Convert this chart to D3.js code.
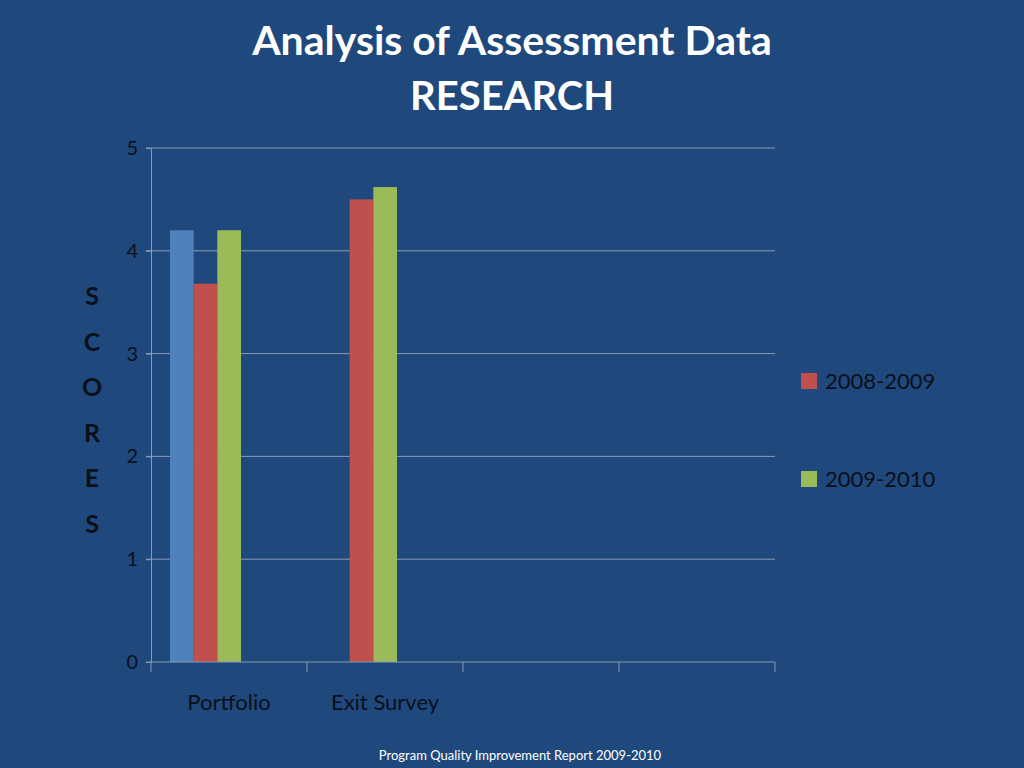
<!DOCTYPE html>
<html><head><meta charset="utf-8">
<script src="https://cdn.jsdelivr.net/npm/d3@7"></script>
<style>body{margin:0;background:#1F497D;} text{font-family:Lato,"Open Sans",sans-serif;}</style>
</head><body>
<script>
var categories = ["Portfolio", "Exit Survey", "", " "];
var series = ["blank", "2008-2009", "2009-2010"];
var blankVals = [4.2, null, null, null];
var vals0809 = [3.68, 4.5, null, null];
var vals0910 = [4.2, 4.62, null, null];
var yTicks = [0, 1, 2, 3, 4, 5];
var colors = {"blank": "#4F81BD", "2008-2009": "#C0504D", "2009-2010": "#9BBB59"};

var width = 1024, height = 768;
var svg = d3.select("body").append("svg").attr("width", width).attr("height", height);
svg.append("rect").attr("width", width).attr("height", height).attr("fill", "#1F497D");

var x0 = d3.scaleBand().domain(categories).range([151, 775]);
var x1 = d3.scaleBand().domain(series).range([19, 90]);
var y = d3.scaleLinear().domain([0, 5]).range([662, 148]);

svg.selectAll(".grid").data(yTicks.slice(1)).enter().append("line")
  .attr("x1", 146).attr("x2", 775).attr("y1", y).attr("y2", y)
  .attr("stroke", "#8a9bb3").attr("stroke-width", 1);

var rows = [];
categories.forEach(function(c, i) {
  rows.push({c: c, s: "blank", v: blankVals[i]});
  rows.push({c: c, s: "2008-2009", v: vals0809[i]});
  rows.push({c: c, s: "2009-2010", v: vals0910[i]});
});
svg.selectAll(".bar").data(rows.filter(function(d) { return d.v != null; })).enter().append("rect")
  .attr("x", function(d) { return x0(d.c) + x1(d.s); })
  .attr("width", x1.bandwidth())
  .attr("y", function(d) { return y(d.v); })
  .attr("height", function(d) { return y(0) - y(d.v); })
  .attr("fill", function(d) { return colors[d.s]; });

var yAxis = svg.append("g").attr("transform", "translate(151,0)")
  .call(d3.axisLeft(y).tickValues(yTicks).tickSize(5).tickPadding(8).tickFormat(d3.format("d")));
var xAxis = svg.append("g").attr("transform", "translate(0,662)")
  .call(d3.axisBottom(x0).tickSize(0).tickPadding(32));
[yAxis, xAxis].forEach(function(a) {
  a.selectAll("path,line").attr("stroke", "#8a9bb3");
  a.selectAll("text").attr("fill", "#0a0f1a").style("font-size", "20px");
});
xAxis.selectAll("text").style("font-size", "22px");
xAxis.select(".domain").remove();
xAxis.append("line").attr("x1", 146).attr("x2", 775).attr("stroke", "#8a9bb3");
svg.selectAll(".xt").data(d3.range(categories.length + 1)).enter().append("line")
  .attr("x1", function(i) { return 151 + i * x0.step(); })
  .attr("x2", function(i) { return 151 + i * x0.step(); })
  .attr("y1", 662).attr("y2", 672).attr("stroke", "#8a9bb3");

svg.append("text").attr("x", 512).attr("y", 55).attr("text-anchor", "middle")
  .attr("fill", "white").style("font-size", "41px").style("font-weight", "bold").text("Analysis of Assessment Data");
svg.append("text").attr("x", 512).attr("y", 110).attr("text-anchor", "middle")
  .attr("fill", "white").style("font-size", "40px").style("font-weight", "bold").text("RESEARCH");

"SCORES".split("").forEach(function(ch, i) {
  svg.append("text").attr("x", 92).attr("y", 305 + i * 45.5).attr("text-anchor", "middle")
    .attr("fill", "#0a0f1a").style("font-size", "25px").style("font-weight", "bold").text(ch);
});

var legend = svg.selectAll(".lg").data(series.slice(1)).enter().append("g")
  .attr("transform", function(d, i) { return "translate(801," + (373 + i * 98) + ")"; });
legend.append("rect").attr("width", 16).attr("height", 16).attr("fill", function(d) { return colors[d]; });
legend.append("text").attr("x", 24).attr("y", 16).attr("fill", "#0a0f1a").style("font-size", "22px").text(function(d) { return d; });

svg.append("text").attr("x", 520).attr("y", 760).attr("text-anchor", "middle")
  .attr("fill", "white").style("font-size", "13px").text("Program Quality Improvement Report  2009-2010");
</script>
</body></html>
